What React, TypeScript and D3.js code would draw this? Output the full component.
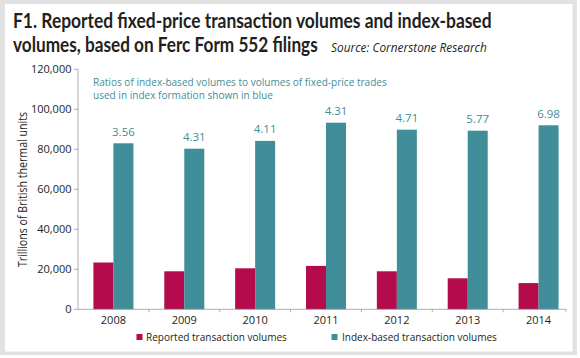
import React, { useLayoutEffect, useRef, useState } from "react";
import * as d3 from "d3";

const years = ["2008", "2009", "2010", "2011", "2012", "2013", "2014"];
const reported = [23400, 19000, 20500, 21700, 19000, 15500, 13100];
const indexBased = [83000, 80300, 84200, 93300, 89800, 89300, 92000];
const ratios = ["3.56", "4.31", "4.11", "4.31", "4.71", "5.77", "6.98"];
const yTicks = [0, 20000, 40000, 60000, 80000, 100000, 120000];
const seriesNames = ["Reported transaction volumes", "Index-based transaction volumes"];

const RED = "#b30b4c";
const TEAL = "#3f8e99";
const TXT = "#231f20";
const FONT = "'Open Sans', 'Noto Sans', sans-serif";
const TITLE_FONT = "Lato, 'Open Sans', sans-serif";

function FitText(props: { x: number; y: number; width: number; children: string; [k: string]: any }) {
  const { x, y, width, children, ...rest } = props;
  const ref = useRef<SVGTextElement>(null);
  const [sx, setSx] = useState(1);
  useLayoutEffect(() => {
    if (ref.current) {
      const len = ref.current.getComputedTextLength();
      if (len > 0) setSx(width / len);
    }
  }, [width, children]);
  return (
    <g transform={`translate(${x},${y}) scale(${sx},1)`}>
      <text ref={ref} x={0} y={0} {...rest}>
        {children}
      </text>
    </g>
  );
}

export default function App() {
  const W = 580, H = 358;
  const x = d3.scaleBand<string>().domain(years).range([78, 574]).paddingInner(0).paddingOuter(0);
  const y = d3.scaleLinear().domain([0, 120000]).range([309.3, 69.3]);
  const bw = 20;
  const fmt = d3.format(",");
  const axisEnd = 566;

  return (
    <svg width={W} height={H} style={{ position: "absolute", left: 0, top: 0, fontFamily: FONT }}>
      <rect x={0} y={0} width={W} height={H} fill="#ffffff" />
      <rect x={0} y={0} width={577} height={355} fill="#e2e2e2" />
      <rect x={5} y={4} width={567.5} height={347.5} fill="#ffffff" />

      {/* Title */}
      <FitText x={13} y={27.5} width={479} fontSize={21.5} fontWeight={700} fill={TXT} fontFamily={TITLE_FONT}>
        F1. Reported fixed-price transaction volumes and index-based
      </FitText>
      <FitText x={13} y={52} width={305} fontSize={21.5} fontWeight={700} fill={TXT} fontFamily={TITLE_FONT}>
        volumes, based on Ferc Form 552 filings
      </FitText>
      <FitText x={331} y={51.5} width={156} fontSize={13.5} fontStyle="italic" fill={TXT}>
        Source: Cornerstone Research
      </FitText>

      {/* Annotation */}
      <FitText x={93} y={85.5} width={294} fontSize={11.3} fill={TEAL}>
        Ratios of index-based volumes to volumes of fixed-price trades
      </FitText>
      <FitText x={93} y={99} width={180} fontSize={11.3} fill={TEAL}>
        used in index formation shown in blue
      </FitText>

      {/* Y axis */}
      <line x1={78} x2={78} y1={y(120000)} y2={y(0)} stroke="#9a9a9a" strokeWidth={0.8} />
      {yTicks.map((t) => (
        <g key={t}>
          <line x1={74} x2={78} y1={y(t)} y2={y(t)} stroke="#9a9a9a" strokeWidth={0.8} />
          <text x={71.5} y={y(t)} dy="0.35em" textAnchor="end" fontSize={11} fill={TXT}>
            {fmt(t)}
          </text>
        </g>
      ))}
      <text
        transform={`translate(27,${189.5}) rotate(-90)`}
        textAnchor="middle"
        fontSize={12}
        fill={TXT}
        textLength={155}
        lengthAdjust="spacingAndGlyphs"
      >
        Trillions of British thermal units
      </text>

      {/* Bars */}
      {years.map((yr, i) => {
        const c = (x(yr) as number) + x.bandwidth() / 2;
        return (
          <g key={yr}>
            <rect x={c - bw} y={y(reported[i])} width={bw} height={y(0) - y(reported[i])} fill={RED} />
            <rect x={c} y={y(indexBased[i])} width={bw} height={y(0) - y(indexBased[i])} fill={TEAL} />
            <text x={c + bw / 2} y={y(indexBased[i]) - 7.5} textAnchor="middle" fontSize={11.5} fill={TEAL}>
              {ratios[i]}
            </text>
            <text x={c} y={323.5} textAnchor="middle" fontSize={11} fill={TXT}>
              {yr}
            </text>
          </g>
        );
      })}

      {/* X axis */}
      <line x1={78} x2={axisEnd} y1={y(0)} y2={y(0)} stroke="#9a9a9a" strokeWidth={0.8} />
      {years.slice(1).map((yr) => (
        <line key={yr} x1={x(yr) as number} x2={x(yr) as number} y1={y(0)} y2={y(0) + 3} stroke="#9a9a9a" strokeWidth={0.8} />
      ))}
      <line x1={axisEnd} x2={axisEnd} y1={y(0)} y2={y(0) + 3} stroke="#9a9a9a" strokeWidth={0.8} />

      {/* Legend */}
      <rect x={136.5} y={334} width={6} height={6} fill={RED} />
      <FitText x={146} y={340.5} width={141} fontSize={11} fill={TXT}>
        {seriesNames[0]}
      </FitText>
      <rect x={331.5} y={334} width={6} height={6} fill={TEAL} />
      <FitText x={342} y={340.5} width={155} fontSize={11} fill={TXT}>
        {seriesNames[1]}
      </FitText>
    </svg>
  );
}
